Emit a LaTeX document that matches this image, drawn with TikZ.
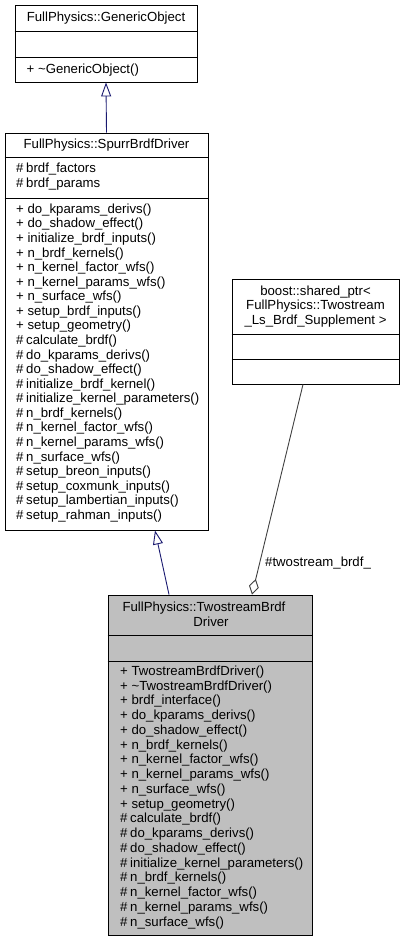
\documentclass[tikz,border=0pt]{standalone}
\usepackage{fontspec}
\setmainfont{Liberation Sans}
\usetikzlibrary{arrows.meta}
\definecolor{navyedge}{HTML}{191970}
\definecolor{greyedge}{HTML}{404040}
\definecolor{boxgrey}{HTML}{BFBFBF}
\newcommand{\prot}{\#\hspace{0.2em}}
\newcommand{\pub}{+ }
\begin{document}
\begin{tikzpicture}[x=1pt,y=-1pt,
  txt/.style={font=\fontsize{13.2}{14.6}\selectfont, inner sep=0pt, anchor=west},
  ctxt/.style={font=\fontsize{13.2}{14.6}\selectfont, inner sep=0pt, anchor=center},
  umlbox/.style={draw=black, line width=0.9pt, inner sep=0pt, fill=white},
  sep/.style={draw=black, line width=0.9pt},
  inherit/.style={draw=navyedge, line width=0.9pt, -{Triangle[open, length=14pt, width=10pt]}},
  aggr/.style={draw=greyedge, line width=0.9pt, -{Diamond[open, length=16pt, width=10pt]}}
]
\useasboundingbox (0,0) rectangle (405,941);

% Box 1: GenericObject
\node[umlbox, minimum width=182pt, minimum height=77pt] (b1) at (106,43.5) {};
\draw[sep] (b1.west |- 0,31) -- (b1.east |- 0,31);
\draw[sep] (b1.west |- 0,57) -- (b1.east |- 0,57);
\node[ctxt] (b1t) at (106,18) {FullPhysics::GenericObject};
\node[txt] (b1m) at (26.5,70) {\pub\textasciitilde GenericObject()};

% Box 2: SpurrBrdfDriver
\node[umlbox, minimum width=203pt, minimum height=397pt] (b2) at (106.5,331.5) {};
\draw[sep] (b2.west |- 0,157) -- (b2.east |- 0,157);
\draw[sep] (b2.west |- 0,198) -- (b2.east |- 0,198);
\node[ctxt] (b2t) at (106.5,145) {FullPhysics::SpurrBrdfDriver};
\node[txt] (b2a1) at (16,169) {\prot brdf\_factors};
\node[txt] (b2a2) at (16,184) {\prot brdf\_params};
\foreach \t [count=\i from 0] in {
  \pub do\_kparams\_derivs(),
  \pub do\_shadow\_effect(),
  \pub initialize\_brdf\_inputs(),
  \pub n\_brdf\_kernels(),
  \pub n\_kernel\_factor\_wfs(),
  \pub n\_kernel\_params\_wfs(),
  \pub n\_surface\_wfs(),
  \pub setup\_brdf\_inputs(),
  \pub setup\_geometry(),
  \prot calculate\_brdf(),
  \prot do\_kparams\_derivs(),
  \prot do\_shadow\_effect(),
  \prot initialize\_brdf\_kernel(),
  \prot initialize\_kernel\_parameters(),
  \prot n\_brdf\_kernels(),
  \prot n\_kernel\_factor\_wfs(),
  \prot n\_kernel\_params\_wfs(),
  \prot n\_surface\_wfs(),
  \prot setup\_breon\_inputs(),
  \prot setup\_coxmunk\_inputs(),
  \prot setup\_lambertian\_inputs(),
  \prot setup\_rahman\_inputs()}
  \node[txt] (b2m\i) at (16,{210+\i*14.57}) {\t};

% Box 3: shared_ptr
\node[umlbox, minimum width=167pt, minimum height=105pt] (b3) at (315.5,331.5) {};
\draw[sep] (b3.west |- 0,334) -- (b3.east |- 0,334);
\draw[sep] (b3.west |- 0,359) -- (b3.east |- 0,359);
\node[ctxt] (b3t1) at (315.5,292) {boost::shared\_ptr<};
\node[ctxt] (b3t2) at (315.5,306.5) {FullPhysics::Twostream};
\node[ctxt] (b3t3) at (315.5,321) {\_Ls\_Brdf\_Supplement >};

% Box 4: TwostreamBrdfDriver
\node[umlbox, fill=boxgrey, minimum width=204pt, minimum height=340pt] (b4) at (210,765) {};
\draw[sep] (b4.west |- 0,635) -- (b4.east |- 0,635);
\draw[sep] (b4.west |- 0,661) -- (b4.east |- 0,661);
\node[ctxt] (b4t1) at (204,608) {FullPhysics::TwostreamBrdf};
\node[ctxt] (b4t2) at (211,622) {Driver};
\foreach \t [count=\i from 0] in {
  \pub TwostreamBrdfDriver(),
  \pub\textasciitilde TwostreamBrdfDriver(),
  \pub brdf\_interface(),
  \pub do\_kparams\_derivs(),
  \pub do\_shadow\_effect(),
  \pub n\_brdf\_kernels(),
  \pub n\_kernel\_factor\_wfs(),
  \pub n\_kernel\_params\_wfs(),
  \pub n\_surface\_wfs(),
  \pub setup\_geometry(),
  \prot calculate\_brdf(),
  \prot do\_kparams\_derivs(),
  \prot do\_shadow\_effect(),
  \prot initialize\_kernel\_parameters(),
  \prot n\_brdf\_kernels(),
  \prot n\_kernel\_factor\_wfs(),
  \prot n\_kernel\_params\_wfs(),
  \prot n\_surface\_wfs()}
  \node[txt] (b4m\i) at (120,{672+\i*14.75}) {\t};

% Connectors
\draw[inherit] (b2.north) -- (b1.south);
\draw[inherit] ([xshift=-41pt]b4.north) -- ([xshift=48.5pt]b2.south);
\draw[aggr] ([xshift=-12.5pt]b3.south) -- ([xshift=42pt]b4.north);
\node[txt] (lbl) at (265,563) {\#twostream\_brdf\_};
\end{tikzpicture}
\end{document}
